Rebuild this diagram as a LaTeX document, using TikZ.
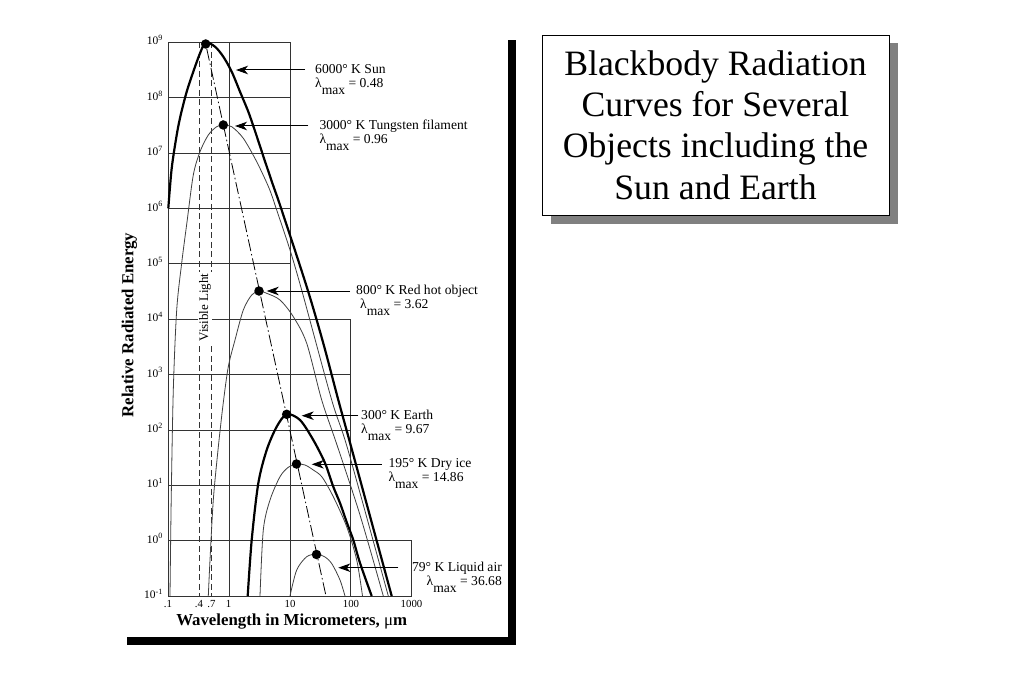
\documentclass[tikz,border=0pt]{standalone}
\usepackage{fontspec}
\setmainfont{Liberation Serif}
\usepackage{tikz}
\usetikzlibrary{arrows.meta,positioning,shadows}

\newcommand{\lmax}{λ\raisebox{-0.5em}{max}}

\tikzset{
    gridline/.style={draw=black!80, line width=0.8pt},
    visline/.style={black!80, line width=0.8pt, dash pattern=on 6pt off 3.5pt},
    wienline/.style={black, line width=0.8pt, dash pattern=on 12pt off 3pt on 1.5pt off 3pt},
    hotcurve/.style={black, line width=2.2pt},
    coolcurve/.style={black!75, line width=0.8pt},
    peak/.style={circle, fill=black, inner sep=0pt, minimum size=9.5pt},
    pointer/.style={-{Stealth[length=12pt,width=8.5pt,inset=3.5pt]}, line width=1pt},
    lbl/.style={font=\fontsize{13.6}{14}\selectfont, align=left, inner sep=0pt, anchor=north west},
    ytick/.style={font=\fontsize{11.5}{13}\selectfont, inner sep=0pt, anchor=base east},
    xtick/.style={font=\fontsize{10.8}{12}\selectfont, inner sep=0pt, anchor=base},
    axlbl/.style={font=\bfseries\fontsize{16.8}{18}\selectfont, inner sep=0pt},
    titlebox/.style={draw, line width=0.8pt, fill=white, minimum width=347pt, minimum height=180pt,
        align=center, font=\fontsize{35.7}{41.3}\selectfont,
        drop shadow={opacity=1, shadow xshift=8.5pt, shadow yshift=-8.5pt}}
}

\begin{document}
\begin{tikzpicture}[x=1pt, y=-1pt]
\fill[white] (0,0) rectangle (1023,682);
\useasboundingbox (0,0) rectangle (1023,682);

% panel with its shadow
\fill[black] (127,40) rectangle (516,645);
\fill[white] (119,32) rectangle (508,637);

% grid
\draw[gridline] (168.3,42.3) -- (290,42.3) -- (290,596);
\draw[gridline] (168.3,42.3) -- (168.3,596) -- (411.7,596) -- (411.7,540.6) -- (168.3,540.6);
\draw[gridline] (229.3,42.3) -- (229.3,596);
\draw[gridline] (168.3,319.1) -- (350.7,319.1) -- (350.7,596);
\draw[gridline] (168.3,97.7) -- (290,97.7);
\draw[gridline] (168.3,153.0) -- (290,153.0);
\draw[gridline] (168.3,208.4) -- (290,208.4);
\draw[gridline] (168.3,263.8) -- (290,263.8);
\draw[gridline] (168.3,374.5) -- (350.7,374.5);
\draw[gridline] (168.3,429.9) -- (350.7,429.9);
\draw[gridline] (168.3,485.2) -- (350.7,485.2);

% visible band
\draw[visline] (199,42.3) -- (199,596);
\draw[visline] (211,42.3) -- (211,596);
\node[font=\fontsize{13}{14}\selectfont, rotate=90, fill=white, inner sep=1pt] (vislbl) at (205,307.5) {Visible Light};

% curves
\draw[hotcurve] plot[smooth] coordinates {(168.3,208.3) (171.7,168.3) (176.7,135) (180.7,115) (186.7,91.7) (193.3,71.7) (200,53.3) (205.7,42.5) (215,46.7) (223.3,56.7) (231.7,71.7) (240,91.7) (248.3,111.7) (255,131) (264,158.3) (273,185) (281,208) (306.7,286.7) (323.3,343.3) (338.3,400) (352,450) (391.7,596)};
\draw[coolcurve] plot[smooth] coordinates {(170,596) (171.2,500) (173.3,390) (176.7,310) (181.7,263) (187,222) (193.3,175) (200,151.7) (208.3,135) (216.7,126.7) (223.3,125) (231.7,126.7) (243.3,138.3) (256.7,161.7) (269,188) (276,208) (290,250) (302.5,293) (331.7,400) (348,450) (388.3,596)};
\draw[coolcurve] plot[smooth] coordinates {(208.3,596) (210,560) (213.3,500) (218,450) (223,405) (228.3,366.7) (235,340) (243.3,310) (251.7,295) (259,291) (266.7,293.3) (280,300) (293.3,316.7) (306.7,343.3) (321.7,400) (337,445) (360,515) (383.3,596)};
\draw[hotcurve] plot[smooth] coordinates {(247.7,596) (251.7,540) (258.3,483.3) (266.7,450) (276.7,426.7) (286.7,414.3) (300,420) (313.3,440) (325,463) (333,486) (340,503) (347,523) (353.3,540) (360,563) (371.7,596)};
\draw[coolcurve] plot[smooth] coordinates {(260,596) (263.3,530) (270,500) (280,476.7) (288.3,467.3) (296.5,464) (305,465) (313.3,470) (322,477) (333.3,496.7) (346.7,526.7) (356.7,560) (362.5,596)};
\draw[coolcurve] plot[smooth] coordinates {(290,596) (296.7,570) (306.7,556.7) (316.5,554.3) (325,557) (332,564) (340,580) (345,596)};

% peaks
\node[peak] (sun) at (205.7,44) {};
\node[peak] (tung) at (223.3,125) {};
\node[peak] (redhot) at (259,291) {};
\node[peak] (earth) at (286.7,414.3) {};
\node[peak] (dryice) at (296.5,464) {};
\node[peak] (liqair) at (316.5,554.5) {};
\coordinate (wienend) at (326,596);
\draw[wienline] (sun) -- (wienend);

% pointers
\coordinate (suntail) at (305,70);     \coordinate (suntip) at (236,70);
\coordinate (tungtail) at (308.3,126); \coordinate (tungtip) at (235,126);
\coordinate (redtail) at (350,291);    \coordinate (redtip) at (266.7,291);
\coordinate (earthtail) at (358.3,415.7); \coordinate (earthtip) at (301.7,415.7);
\coordinate (icetail) at (381.7,464.3);   \coordinate (icetip) at (311.7,464.3);
\coordinate (airtail) at (398.3,567.7);   \coordinate (airtip) at (338.3,567.7);
\path[pointer] (suntail) edge (suntip);
\path[pointer] (tungtail) edge (tungtip);
\path[pointer] (redtail) edge (redtip);
\path[pointer] (earthtail) edge (earthtip);
\path[pointer] (icetail) edge (icetip);
\path[pointer] (airtail) edge (airtip);

% labels
\node[lbl] (sunlbl) at (315,64) {6000° K Sun\\\lmax{} = 0.48};
\node[lbl] (tunglbl) at (319.3,120) {3000° K Tungsten filament\\\lmax{} = 0.96};
\node[lbl] (redlbl) at (356,285) {800° K Red hot object\\\hspace*{4pt}\lmax{} = 3.62};
\node[lbl] (earthlbl) at (361,409.7) {300° K Earth\\\lmax{} = 9.67};
\node[lbl] (icelbl) at (388.3,458.3) {195° K Dry ice\\\lmax{} = 14.86};
\node[lbl, align=right, anchor=north east] (airlbl) at (502,561.7) {79° K Liquid air\\\lmax{} = 36.68};

% ticks
\node[ytick] (y9) at (163,45.0) {10\textsuperscript{9}};
\node[ytick] (y8) at (163,100.4) {10\textsuperscript{8}};
\node[ytick] (y7) at (163,155.7) {10\textsuperscript{7}};
\node[ytick] (y6) at (163,211.1) {10\textsuperscript{6}};
\node[ytick] (y5) at (163,266.5) {10\textsuperscript{5}};
\node[ytick] (y4) at (163,321.8) {10\textsuperscript{4}};
\node[ytick] (y3) at (163,377.2) {10\textsuperscript{3}};
\node[ytick] (y2) at (163,432.6) {10\textsuperscript{2}};
\node[ytick] (y1) at (163,487.9) {10\textsuperscript{1}};
\node[ytick] (y0) at (163,543.3) {10\textsuperscript{0}};
\node[ytick] (ym1) at (163,598.7) {10\textsuperscript{-1}};
\node[xtick] (x01) at (168,607.5) {.1};
\node[xtick] (x04) at (199,607.5) {.4};
\node[xtick] (x07) at (211.5,607.5) {.7};
\node[xtick] (x1) at (228.5,607.5) {1};
\node[xtick] (x10) at (290,607.5) {10};
\node[xtick] (x100) at (351,607.5) {100};
\node[xtick] (x1000) at (411.5,607.5) {1000};

% axis labels
\node[axlbl, rotate=90] (ylbl) at (129.5,325) {Relative Radiated Energy};
\node[axlbl] (xlbl) at (291.7,622) {Wavelength in Micrometers, \textmd{μ}m};

% title
\node[titlebox] (ttl) at (715.5,125) {Blackbody Radiation\\Curves for Several\\Objects including the\\Sun and Earth};
\end{tikzpicture}
\end{document}
